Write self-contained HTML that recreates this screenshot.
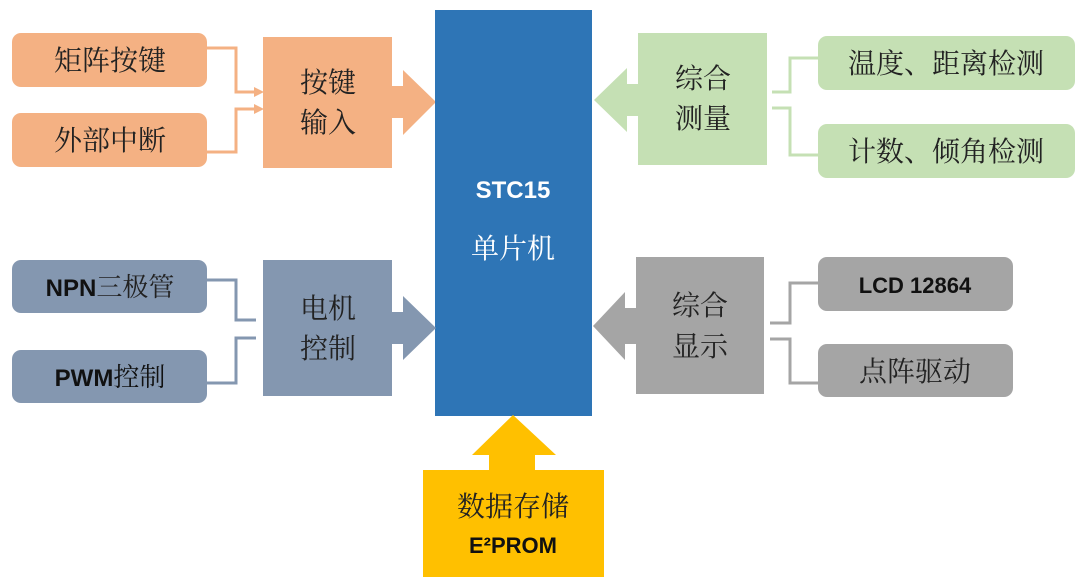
<!DOCTYPE html>
<html><head><meta charset="utf-8"><style>
html,body{margin:0;padding:0;background:#fff}
svg{display:block}
text{font-family:"Liberation Sans","Noto Sans CJK SC",sans-serif;}
.cn{font-family:"Noto Serif CJK SC","Liberation Serif",serif;font-size:28px;fill:#222}
.b{font-weight:bold;font-size:22px;fill:#111}
</style></head><body>
<svg width="1080" height="584" viewBox="0 0 1080 584">
<!-- top-left orange -->
<rect x="12" y="33" width="195" height="54" rx="9" fill="#f4b183"/>
<rect x="12" y="113" width="195" height="54" rx="9" fill="#f4b183"/>
<text class="cn" x="110" y="70" text-anchor="middle">矩阵按键</text>
<text class="cn" x="110" y="150" text-anchor="middle">外部中断</text>
<g stroke="#f4b183" stroke-width="3" fill="none">
<polyline points="207,48 236,48 236,92 256,92"/>
<polyline points="207,152 236,152 236,109 256,109"/>
</g>
<polygon points="254,87 264,92 254,97" fill="#f4b183"/>
<polygon points="254,104 264,109 254,114" fill="#f4b183"/>
<rect x="263" y="37" width="129" height="131" fill="#f4b183"/>
<text class="cn" x="328" y="92" text-anchor="middle">按键</text>
<text class="cn" x="328" y="132" text-anchor="middle">输入</text>
<polygon points="390,86 403,86 403,70 436,102 403,135 403,118 390,118" fill="#f4b183"/>

<!-- center -->
<rect x="435" y="10" width="157" height="406" fill="#2e75b6"/>
<text x="513" y="198" text-anchor="middle" style="font-weight:bold;font-size:24px;fill:#fff">STC15</text>
<text x="513" y="258" text-anchor="middle" style="font-family:'Noto Serif CJK SC',serif;font-size:28px;fill:#fff">单片机</text>

<!-- top-right green -->
<rect x="818" y="36" width="257" height="54" rx="9" fill="#c5e0b4"/>
<rect x="818" y="124" width="257" height="54" rx="9" fill="#c5e0b4"/>
<text class="cn" x="946" y="73" text-anchor="middle">温度、距离检测</text>
<text class="cn" x="946" y="161" text-anchor="middle">计数、倾角检测</text>
<g stroke="#c5e0b4" stroke-width="3" fill="none">
<polyline points="818,58 790,58 790,92 772,92"/>
<polyline points="818,155 790,155 790,108 772,108"/>
</g>
<rect x="638" y="33" width="129" height="132" fill="#c5e0b4"/>
<text class="cn" x="703" y="88" text-anchor="middle">综合</text>
<text class="cn" x="703" y="128" text-anchor="middle">测量</text>
<polygon points="640,84 627,84 627,68 594,100 627,132 627,116 640,116" fill="#c5e0b4"/>

<!-- bottom-left slate -->
<rect x="12" y="260" width="195" height="53" rx="9" fill="#8497b0"/>
<rect x="12" y="350" width="195" height="53" rx="9" fill="#8497b0"/>
<text x="110" y="296" text-anchor="middle" style="font-size:24px;fill:#111"><tspan style="font-weight:bold">NPN</tspan><tspan class="cn" style="font-family:'Noto Serif CJK SC',serif;font-size:26px">三极管</tspan></text>
<text x="110" y="386" text-anchor="middle" style="font-size:24px;fill:#111"><tspan style="font-weight:bold">PWM</tspan><tspan style="font-family:'Noto Serif CJK SC',serif;font-size:26px">控制</tspan></text>
<g stroke="#8497b0" stroke-width="3" fill="none">
<polyline points="207,280 236,280 236,320 256,320"/>
<polyline points="207,383 236,383 236,338 256,338"/>
</g>
<rect x="263" y="260" width="129" height="136" fill="#8497b0"/>
<text class="cn" x="328" y="318" text-anchor="middle">电机</text>
<text class="cn" x="328" y="358" text-anchor="middle">控制</text>
<polygon points="390,312 403,312 403,296 436,328 403,360 403,344 390,344" fill="#8497b0"/>

<!-- bottom-right gray -->
<rect x="818" y="257" width="195" height="54" rx="9" fill="#a5a5a5"/>
<rect x="818" y="344" width="195" height="53" rx="9" fill="#a5a5a5"/>
<text x="915" y="293" text-anchor="middle" class="b">LCD 12864</text>
<text class="cn" x="915" y="381" text-anchor="middle">点阵驱动</text>
<g stroke="#a5a5a5" stroke-width="3" fill="none">
<polyline points="818,283 790,283 790,323 770,323"/>
<polyline points="818,383 790,383 790,339 770,339"/>
</g>
<rect x="636" y="257" width="128" height="137" fill="#a5a5a5"/>
<text class="cn" x="700" y="315" text-anchor="middle">综合</text>
<text class="cn" x="700" y="356" text-anchor="middle">显示</text>
<polygon points="638,308 625,308 625,292 593,326 625,360 625,344 638,344" fill="#a5a5a5"/>

<!-- bottom gold -->
<polygon points="489,472 489,455 472,455 513,415 556,455 535,455 535,472" fill="#ffc000"/>
<rect x="423" y="470" width="181" height="107" fill="#ffc000"/>
<text class="cn" x="513" y="516" text-anchor="middle">数据存储</text>
<text x="513" y="553" text-anchor="middle" class="b">E²PROM</text>
</svg>
</body></html>
